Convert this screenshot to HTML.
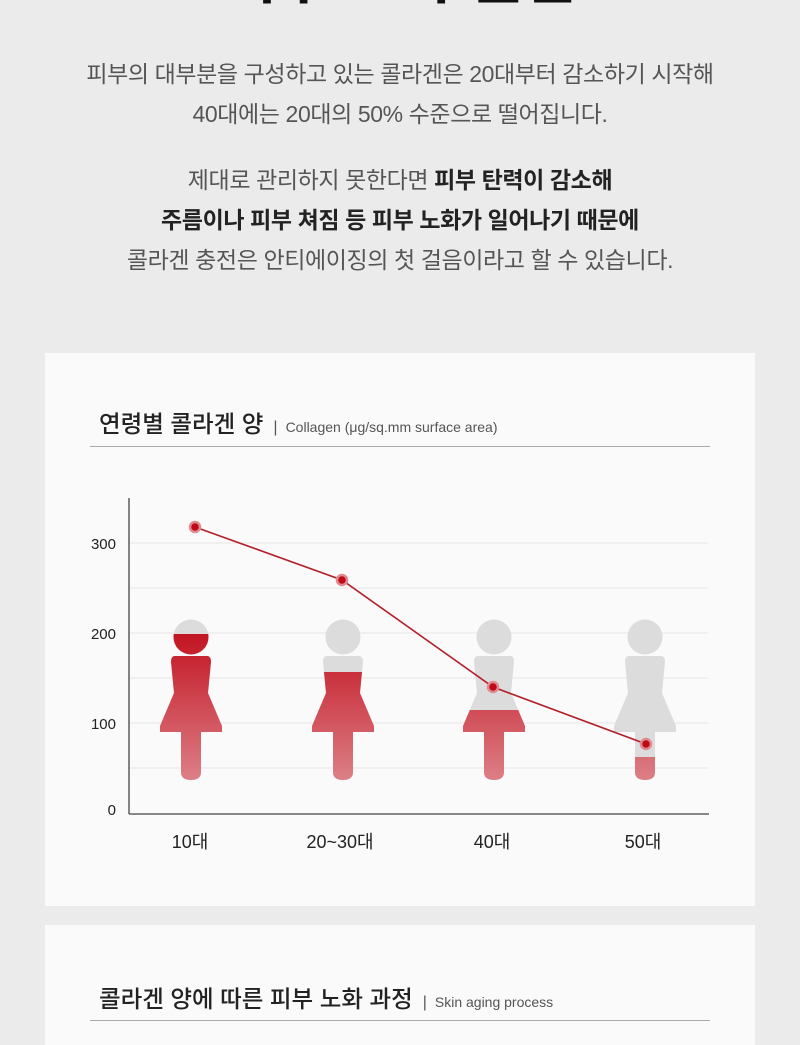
<!DOCTYPE html>
<html><head><meta charset="utf-8"><style>
html,body{margin:0;padding:0;}
body{width:800px;height:1023px;background:#ebebeb;position:relative;overflow:hidden;font-family:"Liberation Sans","Noto Sans CJK KR",sans-serif;}
.hd{position:absolute;left:0;width:800px;top:-51px;text-align:center;font-size:58px;font-weight:bold;color:#111;line-height:60px;}
.p{position:absolute;left:0;width:800px;text-align:center;font-size:23px;color:#555;line-height:40px;letter-spacing:-0.4px;}
.p b{color:#222;}
.card{position:absolute;left:45px;width:710px;background:#fafafa;}
.t{position:absolute;left:54px;font-size:23.5px;color:#222;font-weight:500;}
.t span{font-size:14px;color:#555;font-weight:normal;margin-left:8px;}
.t i{font-style:normal;font-size:16px;color:#555;margin-left:10px;font-weight:normal;}
.ln{position:absolute;left:45px;width:620px;height:1px;background:#aaa;}
</style></head><body>
<div class="hd">피부 노화 원인</div>
<div class="p" style="top:54px">피부의 대부분을 구성하고 있는 콜라겐은 20대부터 감소하기 시작해<br>40대에는 20대의 50% 수준으로 떨어집니다.</div>
<div class="p" style="top:160px">제대로 관리하지 못한다면 <b>피부 탄력이 감소해</b><br><b>주름이나 피부 쳐짐 등 피부 노화가 일어나기 때문에</b><br>콜라겐 충전은 안티에이징의 첫 걸음이라고 할 수 있습니다.</div>
<div class="card" style="top:353px;height:553px">
<div class="t" style="top:52px">연령별 콜라겐 양<i>|</i><span>Collagen (μg/sq.mm surface area)</span></div>
<div class="ln" style="top:93px"></div>
</div>
<div class="card" style="top:925px;height:120px">
<div class="t" style="top:55px">콜라겐 양에 따른 피부 노화 과정<i>|</i><span>Skin aging process</span></div>
<div class="ln" style="top:95px"></div>
</div>
<svg style="position:absolute;left:0;top:0" width="800" height="1023">
<defs>
<linearGradient id="g" x1="0" y1="620" x2="0" y2="780" gradientUnits="userSpaceOnUse"><stop offset="0" stop-color="#c00a18"/><stop offset="1" stop-color="#dc7f86"/></linearGradient>
<g id="fig"><circle cx="0" cy="637" r="17.5"/><path d="M-16,656 Q-20,656 -20,662 L-17,693 L-31,726 L-31,732 L-10,732 L-10,772 Q-10,780 0,780 Q10,780 10,772 L10,732 L31,732 L31,726 L17,693 L20,662 Q20,656 16,656 Z"/></g>
<clipPath id="c1"><rect x="0" y="634" width="800" height="200"/></clipPath>
<clipPath id="c2"><rect x="0" y="672" width="800" height="200"/></clipPath>
<clipPath id="c3"><rect x="0" y="710" width="800" height="200"/></clipPath>
<clipPath id="c4"><rect x="0" y="757" width="800" height="200"/></clipPath>
</defs>
<g stroke="#e6e6e6" stroke-width="1">
<line x1="129" y1="543" x2="708" y2="543"/><line x1="129" y1="588" x2="708" y2="588"/><line x1="129" y1="633" x2="708" y2="633"/><line x1="129" y1="678" x2="708" y2="678"/><line x1="129" y1="723" x2="708" y2="723"/><line x1="129" y1="768" x2="708" y2="768"/>
</g>
<g fill="#dcdcdc">
<use href="#fig" x="191"/><use href="#fig" x="343"/><use href="#fig" x="494"/><use href="#fig" x="645"/>
</g>
<g fill="url(#g)">
<g clip-path="url(#c1)"><use href="#fig" x="191"/></g>
<g clip-path="url(#c2)"><use href="#fig" x="343"/></g>
<g clip-path="url(#c3)"><use href="#fig" x="494"/></g>
<g clip-path="url(#c4)"><use href="#fig" x="645"/></g>
</g>
<line x1="129" y1="498" x2="129" y2="814" stroke="#444" stroke-width="1.3"/>
<line x1="129" y1="814" x2="709" y2="814" stroke="#444" stroke-width="1.3"/>
<g font-size="15" fill="#222" text-anchor="end" font-family="Liberation Sans,sans-serif">
<text x="116" y="549">300</text><text x="116" y="639">200</text><text x="116" y="729">100</text><text x="116" y="815">0</text>
</g>
<g font-size="18" fill="#222" text-anchor="middle" font-family="Liberation Sans,Noto Sans CJK KR,sans-serif">
<text x="190" y="848">10대</text><text x="340" y="848">20~30대</text><text x="492" y="848">40대</text><text x="643" y="848">50대</text>
</g>
<polyline points="195,527 342,580 493,687 646,744" fill="none" stroke="#b3202a" stroke-width="1.6"/>
<g fill="#c00a18" stroke="#e08a90" stroke-width="2.5">
<circle cx="195" cy="527" r="5"/><circle cx="342" cy="580" r="5"/><circle cx="493" cy="687" r="5"/><circle cx="646" cy="744" r="5"/>
</g>
</svg>
</body></html>
